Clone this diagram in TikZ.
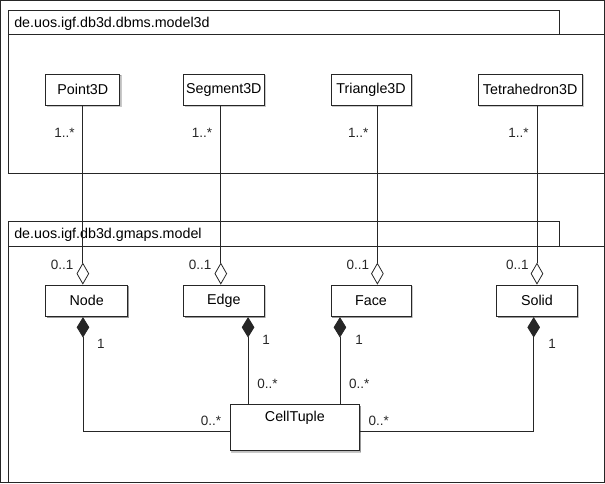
\documentclass[tikz,border=0pt]{standalone}
\usepackage{fontspec}
\setmainfont{Liberation Sans}
\usetikzlibrary{arrows.meta,calc,shadows}
\begin{document}
\begin{tikzpicture}[x=1pt,y=-1pt,
  line width=0.8pt,
  every path/.style={draw=black!85},
  cls/.style={draw=black!85, fill=white, minimum height=31pt, inner sep=0pt,
    font=\fontsize{14.3}{16}\selectfont,
    drop shadow={shadow xshift=1.2pt, shadow yshift=-1.2pt, fill=black, opacity=0.25}},
  mult/.style={inner sep=0pt, font=\fontsize{13.5}{15}\selectfont, text=black!85},
  pkgname/.style={anchor=base west, inner sep=0pt, font=\fontsize{14.3}{16}\selectfont},
  agg/.style={-{Diamond[open, length=22pt, width=12.6pt, fill=white]}},
  comp/.style={{Diamond[length=20.5pt, width=12.6pt]}-},
]
\useasboundingbox (0,0) rectangle (605,483);

% packages
\draw (8.5,10) rectangle (559.4,34.3);
\draw (605,34.3) -- (8.5,34.3) -- (8.5,173.3) -- (605,173.3);
\node[pkgname] (pk1) at (13.5,26.7) {de.uos.igf.db3d.dbms.model3d};
\draw (8.5,221) rectangle (559.4,246.5);
\draw (605,246.5) -- (8.5,246.5) -- (8.5,483);
\node[pkgname] (pk2) at (13.5,238) {de.uos.igf.db3d.gmaps.model};

% classes
\node[cls, minimum width=74.1pt] (p3) at (82.55,89.5) {Point3D};
\node[cls, minimum width=80.3pt] (s3) at (223.75,89.5) {Segment3D};
\node[cls, minimum width=80.3pt] (t3) at (371.15,89.5) {Triangle3D};
\node[cls, minimum width=104.2pt] (h3) at (530.5,89.5) {Tetrahedron3D};
\node[cls, minimum width=81.8pt, minimum height=31.7pt] (nd) at (86.4,300.85) {Node};
\node[cls, minimum width=80.3pt, minimum height=31.7pt] (ed) at (223.75,300.85) {Edge};
\node[cls, minimum width=80.3pt, minimum height=31.7pt] (fc) at (371.15,300.85) {Face};
\node[cls, minimum width=80.5pt, minimum height=31.7pt] (sd) at (537.25,300.85) {Solid};
\node[cls, minimum width=129.1pt, minimum height=46pt] (ct) at (294.85,428) {};
\node[anchor=base, inner sep=0pt, font=\fontsize{14.3}{16}\selectfont] (ctname) at ($(ct.north)+(0,17)$) {CellTuple};

% aggregations
\draw[agg] (p3.south) -- (p3.south |- nd.north);
\draw[agg] ([xshift=-3.05pt]s3.south) -- ([xshift=-3.05pt]s3.south |- ed.north);
\draw[agg] ([xshift=6.35pt]t3.south) -- ([xshift=6.35pt]t3.south |- fc.north);
\draw[agg] ([xshift=6.8pt]h3.south) -- ([xshift=6.8pt]h3.south |- sd.north);

% compositions
\draw[comp] ([xshift=-3.7pt]nd.south) |- ([yshift=-4pt]ct.west);
\draw[comp] ([xshift=24.25pt]ed.south) -- ([xshift=24.25pt]ed.south |- ct.north);
\draw[comp] ([xshift=-31.15pt]fc.south) -- ([xshift=-31.15pt]fc.south |- ct.north);
\draw[comp] ([xshift=-3.25pt]sd.south) |- ([yshift=-4pt]ct.east);

% multiplicities
\node[mult, anchor=base east] (m1) at (74.7,137) {1..*};
\node[mult, anchor=base east] (m2) at (212.5,137) {1..*};
\node[mult, anchor=base east] (m3) at (368.8,137) {1..*};
\node[mult, anchor=base east] (m4) at (529.3,137) {1..*};
\node[mult, anchor=base east] (m5) at (73.5,269.5) {0..1};
\node[mult, anchor=base east] (m6) at (211.6,269.5) {0..1};
\node[mult, anchor=base east] (m7) at (369.6,269.5) {0..1};
\node[mult, anchor=base east] (m8) at (529.3,269.5) {0..1};
\node[mult, anchor=base west] (m9) at (96.5,348.5) {1};
\node[mult, anchor=base west] (m10) at (262,344.7) {1};
\node[mult, anchor=base west] (m11) at (355,344.7) {1};
\node[mult, anchor=base west] (m12) at (548.3,348.5) {1};
\node[mult, anchor=base west] (m13) at (257,388.5) {0..*};
\node[mult, anchor=base west] (m14) at (348.7,388.5) {0..*};
\node[mult, anchor=base east] (m15) at (221.5,425.5) {0..*};
\node[mult, anchor=base west] (m16) at (368.4,425.5) {0..*};
\end{tikzpicture}
\end{document}
